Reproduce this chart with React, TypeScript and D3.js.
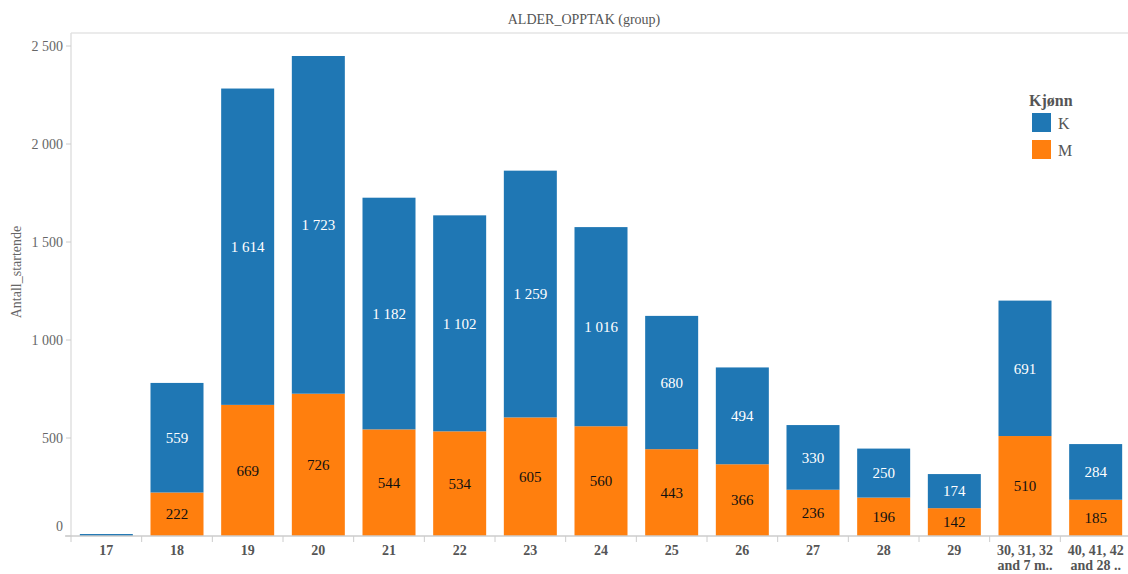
import React, { useEffect, useRef } from 'react';
import * as d3 from 'd3';

const categories = ['17', '18', '19', '20', '21', '22', '23', '24', '25', '26', '27', '28', '29', '30, 31, 32\nand 7 m..', '40, 41, 42\nand 28 ..'];
const kValues = [10, 559, 1614, 1723, 1182, 1102, 1259, 1016, 680, 494, 330, 250, 174, 691, 284];
const mValues = [0, 222, 669, 726, 544, 534, 605, 560, 443, 366, 236, 196, 142, 510, 185];
const yTicks = [0, 500, 1000, 1500, 2000, 2500];
const seriesNames = ['K', 'M'];

const W = 1128;
const H = 574;
const BLUE = '#1f77b4';
const ORANGE = '#ff7f0e';
const FONT = "'Liberation Serif', 'Times New Roman', 'DejaVu Serif', serif";

const fmt = (v: number) => d3.format(',')(v).replace(/,/g, ' ');

export default function App() {
  const ref = useRef<SVGSVGElement>(null);

  useEffect(() => {
    if (!ref.current) return;
    const svg = d3.select(ref.current);
    svg.selectAll('*').remove();

    const left = 71;
    const right = 1131;
    const top = 33;
    const bottom = 536;

    const x = d3.scaleBand().domain(categories).range([left, right]).paddingInner(0.25).paddingOuter(0.125);
    const y = d3.scaleLinear().domain([0, 2500]).range([bottom, 46]);

    const root = svg.append('g').attr('font-family', FONT);

    // title
    root.append('text')
      .attr('x', 584).attr('y', 24)
      .attr('text-anchor', 'middle')
      .attr('font-size', 14).attr('fill', '#555')
      .text('ALDER_OPPTAK (group)');

    // frame
    root.append('line').attr('x1', left).attr('x2', W).attr('y1', top).attr('y2', top)
      .attr('stroke', '#e4e4e4').attr('stroke-width', 1.5);
    root.append('line').attr('x1', left).attr('x2', left).attr('y1', top).attr('y2', bottom)
      .attr('stroke', '#e0e0e0').attr('stroke-width', 1.5);

    // y axis
    const yg = root.append('g');
    yTicks.forEach(t => {
      yg.append('line').attr('x1', left - 5).attr('x2', left).attr('y1', y(t)).attr('y2', y(t))
        .attr('stroke', '#ccc');
      yg.append('text')
        .attr('x', left - 8).attr('y', t === 0 ? y(t) - 10 : y(t))
        .attr('dy', '0.35em').attr('text-anchor', 'end')
        .attr('font-size', 14).attr('fill', '#666')
        .text(fmt(t));
    });
    root.append('text')
      .attr('transform', `translate(21,272) rotate(-90)`)
      .attr('text-anchor', 'middle')
      .attr('font-size', 14).attr('fill', '#666')
      .text('Antall_startende');

    // bars
    const data = categories.map((c, i) => ({ c, K: kValues[i], M: mValues[i] }));
    const stack = d3.stack<any>().keys(['M', 'K'])(data);
    const colors: Record<string, string> = { M: ORANGE, K: BLUE };

    stack.forEach(layer => {
      const key = layer.key;
      const g = root.append('g');
      g.selectAll('rect').data(layer).enter().append('rect')
        .attr('x', d => x(d.data.c) as number)
        .attr('width', x.bandwidth())
        .attr('y', d => y(d[1]))
        .attr('height', d => Math.max(0, y(d[0]) - y(d[1])))
        .attr('fill', colors[key]);
      g.selectAll('text').data(layer.filter(d => d[1] - d[0] > 50)).enter().append('text')
        .attr('x', d => (x(d.data.c) as number) + x.bandwidth() / 2)
        .attr('y', d => (y(d[0]) + y(d[1])) / 2)
        .attr('dy', '0.35em')
        .attr('text-anchor', 'middle')
        .attr('font-size', 15)
        .attr('fill', key === 'K' ? '#fff' : '#111')
        .text(d => fmt(d[1] - d[0]));
    });

    // x axis
    root.append('line').attr('x1', left - 6).attr('x2', W).attr('y1', bottom).attr('y2', bottom)
      .attr('stroke', '#ccc').attr('stroke-width', 1.5);
    const step = x.step();
    categories.forEach((c, i) => {
      const bx = left + i * step;
      root.append('line').attr('x1', bx).attr('x2', bx).attr('y1', bottom).attr('y2', bottom + 6)
        .attr('stroke', '#ccc');
      const cx = (x(c) as number) + x.bandwidth() / 2;
      const t = root.append('text')
        .attr('x', cx)
        .attr('y', 555)
        .attr('text-anchor', 'middle')
        .attr('font-size', 14).attr('font-weight', 'bold').attr('fill', '#555');
      c.split('\n').forEach((line, j) => {
        t.append('tspan').attr('x', cx).attr('dy', j === 0 ? 0 : 15).text(line);
      });
    });

    // legend
    const lg = root.append('g');
    lg.append('text').attr('x', 1029).attr('y', 106)
      .attr('font-size', 16).attr('font-weight', 'bold').attr('fill', '#555').text('Kjønn');
    seriesNames.forEach((s, i) => {
      lg.append('rect').attr('x', 1032).attr('y', 113 + i * 27).attr('width', 19).attr('height', 19)
        .attr('fill', s === 'K' ? BLUE : ORANGE);
      lg.append('text').attr('x', 1058).attr('y', 123 + i * 27).attr('dy', '0.35em')
        .attr('font-size', 16).attr('fill', '#555').text(s);
    });
  }, []);

  return (
    <div style={{ position: 'absolute', left: 0, top: 0 }}>
      <svg ref={ref} width={W} height={H} style={{ display: 'block', background: '#fff' }} />
    </div>
  );
}
